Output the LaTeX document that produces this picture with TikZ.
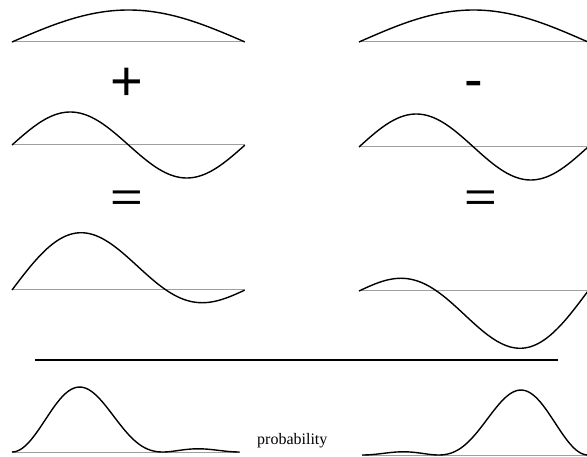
\documentclass[tikz,border=0pt]{standalone}
\usepackage{fontspec}
\setmainfont{Liberation Serif}
\newfontfamily\symfont{Liberation Sans}
\tikzset{
  wave/.style={line width=1.4pt, black, line join=round},
  axisline/.style={line width=1pt, gray!75},
  opsign/.style={inner sep=0pt, font=\symfont\fontsize{56}{56}\selectfont},
}
\begin{document}
\begin{tikzpicture}[x=1pt,y=-1pt]
\useasboundingbox (0,0) rectangle (587,457);
% ---------- left column (x0=12, w=233)
\draw[axisline] (12,42) -- (245,42);
\draw[wave] plot[domain=0:1,samples=80,smooth] ({12+233*\x},{42-32*sin(180*\x)});
\node[opsign] (plus) at (127,84) {+};
\draw[axisline] (12,145) -- (245,145);
\draw[wave] plot[domain=0:1,samples=80,smooth] ({12+233*\x},{145-33*sin(360*\x)});
\node[opsign] (eqL) at (127,201) {\scalebox{1}[0.75]{=}};
\draw[axisline] (12,290) -- (245,290);
\draw[wave] plot[domain=0:1,samples=100,smooth] ({12+233*\x},{290-32*sin(180*\x)-33*sin(360*\x)});
% ---------- right column (x0=359, w=229)
\draw[axisline] (359,42) -- (588,42);
\draw[wave] plot[domain=0:1,samples=80,smooth] ({359+229*\x},{42-32*sin(180*\x)});
\node[opsign] (minus) at (474,90) {-};
\draw[axisline] (359,147) -- (588,147);
\draw[wave] plot[domain=0:1,samples=80,smooth] ({359+229*\x},{147-33*sin(360*\x)});
\node[opsign] (eqR) at (481,201) {\scalebox{1}[0.75]{=}};
\draw[axisline] (359,291) -- (588,291);
\draw[wave] plot[domain=0:1,samples=100,smooth] ({359+229*\x},{291+32*sin(180*\x)-33*sin(360*\x)});
% ---------- separator
\draw[line width=1.4pt] (35,360) -- (558,360);
% ---------- probabilities
\draw[axisline] (12,452) -- (240,452);
\draw[wave] plot[domain=0:1,samples=120,smooth] ({12+228*\x},{452-(32*sin(180*\x)+33*sin(360*\x))^2/50.5});
\draw[axisline] (362,455) -- (588,455);
\draw[wave] plot[domain=0:1,samples=120,smooth] ({362+226*\x},{455-(33*sin(360*\x)-32*sin(180*\x))^2/50.5});
\node[anchor=base west, inner sep=0pt, font=\fontsize{16}{18}\selectfont] (prob) at (257,444) {probability};
\end{tikzpicture}
\end{document}
